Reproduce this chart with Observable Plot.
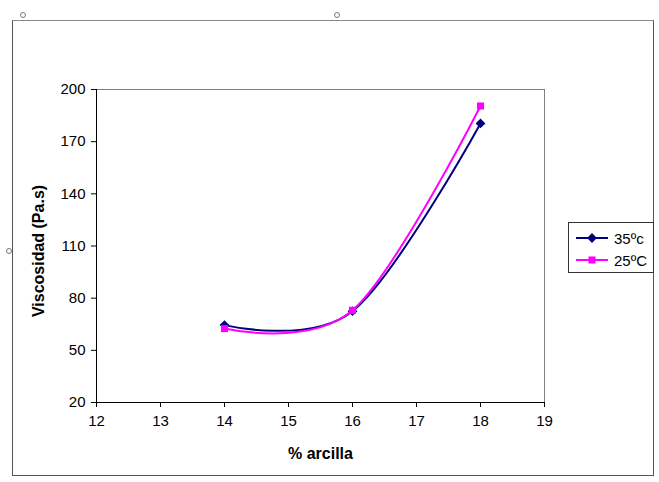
<!DOCTYPE html>
<html>
<head>
<meta charset="utf-8">
<script src="https://cdn.jsdelivr.net/npm/d3@7"></script>
<script src="https://cdn.jsdelivr.net/npm/@observablehq/plot@0.6"></script>
<style>
  html, body { margin: 0; padding: 0; background: #fff; }
  #wrap { position: relative; width: 659px; height: 482px; overflow: hidden; font-family: "Liberation Sans", Arial, sans-serif; }
  #border { position: absolute; left: 12px; top: 20px; width: 642px; height: 456px; border: 1px solid #555; border-top-color: #888; box-sizing: border-box; }
  #chart { position: absolute; left: 0; top: 0; }
  #legend { position: absolute; left: 568px; top: 222px; width: 86px; height: 51px; border: 1px solid #333; box-sizing: border-box; background: #fff; }
  .row { position: absolute; left: 6px; height: 20px; display: flex; align-items: center; font-size: 15px; color: #000; }
  .row svg { margin-right: 5px; }
  .handle { position: absolute; width: 4px; height: 4px; border: 1px solid #777; border-radius: 50%; background: #fff; }
</style>
</head>
<body>
<div id="wrap">
  <div id="border"></div>
  <div id="chart"></div>
  <div id="legend"></div>
  <div class="handle" style="left:20px;top:12px"></div>
  <div class="handle" style="left:334px;top:12px"></div>
  <div class="handle" style="left:6px;top:248px"></div>
</div>
<script>
// Clay percentage (x) and measured viscosity at two temperatures
const arcilla = [14, 16, 18];
const visc35 = [64.5, 72.5, 180.5];
const visc25 = [62.5, 73, 190.5];

const xTicks = [12, 13, 14, 15, 16, 17, 18, 19];
const yTicks = [20, 50, 80, 110, 140, 170, 200];

const series = [
  {name: "35ºc", values: visc35, color: "#000080", symbol: "diamond2", r: 4.4},
  {name: "25ºC", values: visc25, color: "#ff00ff", symbol: "square", r: 4}
];

const rows = series.flatMap(s => arcilla.map((x, i) => ({serie: s.name, x, y: s.values[i]})));

const marks = [
  Plot.frame({stroke: "#808080"}),
  Plot.ruleX([12], {stroke: "#000"}),
  Plot.ruleY([20], {stroke: "#000"}),
  Plot.axisX({ticks: xTicks, tickFormat: d3.format("d"), tickSize: 5, tickPadding: 8, fontSize: 15, label: null}),
  Plot.axisY({ticks: yTicks, tickFormat: d3.format("d"), tickSize: 5, tickPadding: 6, fontSize: 15, label: null}),
  Plot.text(["% arcilla"], {frameAnchor: "bottom", dy: 56, fontWeight: "bold", fontSize: 16}),
  Plot.text(["Viscosidad (Pa.s)"], {frameAnchor: "left", textAnchor: "middle", dx: -58, dy: 5, rotate: -90, fontWeight: "bold", fontSize: 16})
];

for (const s of series) {
  const data = rows.filter(d => d.serie === s.name);
  marks.push(Plot.line(data, {x: "x", y: "y", stroke: s.color, strokeWidth: 2, curve: "cardinal", tension: 0}));
  marks.push(Plot.dot(data, {x: "x", y: "y", symbol: () => s.symbol, r: s.r, fill: s.color, stroke: "none"}));
}

const chart = Plot.plot({
  width: 659,
  height: 482,
  marginLeft: 96,
  marginRight: 115,
  marginTop: 89,
  marginBottom: 80,
  style: {fontFamily: "'Liberation Sans', Arial, sans-serif", fontSize: "15px", color: "#000", background: "transparent", overflow: "visible"},
  x: {domain: [12, 19]},
  y: {domain: [20, 200]},
  symbol: {type: "identity"},
  marks
});
document.getElementById("chart").appendChild(chart);

// Legend: line segment with marker, then the series name
const legend = document.getElementById("legend");
series.forEach((s, i) => {
  const row = document.createElement("div");
  row.className = "row";
  row.style.top = (5 + i * 22) + "px";
  const svg = d3.create("svg").attr("width", 34).attr("height", 12);
  svg.append("line").attr("x1", 1).attr("x2", 33).attr("y1", 6).attr("y2", 6)
    .attr("stroke", s.color).attr("stroke-width", 2);
  svg.append("path").attr("transform", "translate(17,6)")
    .attr("d", d3.symbol(s.symbol === "square" ? d3.symbolSquare : d3.symbolDiamond2, s.r * s.r * Math.PI)())
    .attr("fill", s.color);
  row.appendChild(svg.node());
  const label = document.createElement("span");
  label.textContent = s.name;
  row.appendChild(label);
  legend.appendChild(row);
});
</script>
</body>
</html>
